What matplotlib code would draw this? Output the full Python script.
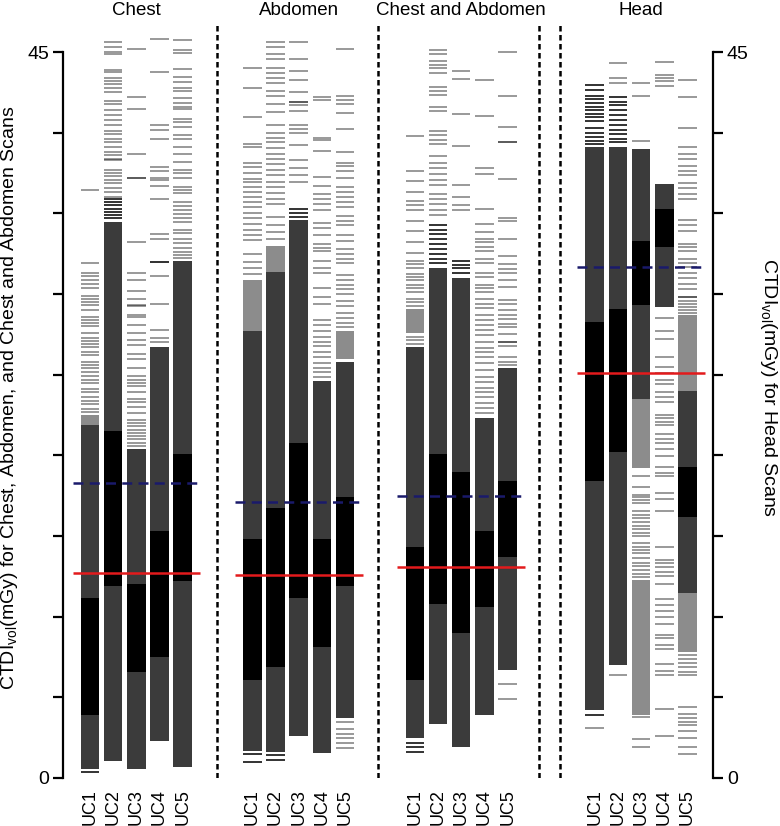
import matplotlib
matplotlib.use("Agg")
import matplotlib.pyplot as plt

plt.rcParams['font.family'] = ['Liberation Sans', 'DejaVu Sans']
plt.rcParams['mathtext.fontset'] = 'custom'
plt.rcParams['mathtext.rm'] = 'Liberation Sans'

panels = ["Chest", "Abdomen", "Chest and Abdomen", "Head"]
uc_labels = ["UC1", "UC2", "UC3", "UC4", "UC5"]
ref_red = [12.7, 12.6, 13.1, 25.1]    # solid red reference level per panel
ref_blue = [18.3, 17.1, 17.5, 31.7]   # dashed blue reference level per panel

# solid blocks per UC column: (low, high, shade)  k=black, d=dark grey, m=mid grey
chest_bands = [
    [(0.55, 3.93, 'd'), (3.93, 11.15, 'k'), (11.15, 21.9, 'd'), (21.9, 22.5, 'm')],
    [(1.05, 11.9, 'd'), (11.9, 21.5, 'k'), (21.5, 34.5, 'd')],
    [(0.55, 6.6, 'd'), (6.6, 12.0, 'k'), (12.0, 20.4, 'd')],
    [(2.3, 7.5, 'd'), (7.5, 15.3, 'k'), (15.3, 26.75, 'd')],
    [(0.7, 12.2, 'd'), (12.2, 20.1, 'k'), (20.1, 32.06, 'd')],
]
abdomen_bands = [
    [(1.7, 6.1, 'd'), (6.1, 14.8, 'k'), (14.8, 27.7, 'd'), (27.7, 30.9, 'm')],
    [(1.6, 6.9, 'd'), (6.9, 16.75, 'k'), (16.75, 31.4, 'd'), (31.4, 33.0, 'm')],
    [(2.6, 11.15, 'd'), (11.15, 20.8, 'k'), (20.8, 34.6, 'd')],
    [(1.57, 8.1, 'd'), (8.1, 14.8, 'k'), (14.8, 24.6, 'd')],
    [(3.7, 11.9, 'd'), (11.9, 17.4, 'k'), (17.4, 25.8, 'd'), (26.0, 27.7, 'm')],
]
chab_bands = [
    [(2.46, 6.05, 'd'), (6.05, 14.3, 'k'), (14.3, 26.75, 'd'), (27.6, 29.1, 'm')],
    [(3.34, 10.8, 'd'), (10.8, 20.1, 'k'), (20.1, 31.6, 'd')],
    [(1.9, 9.0, 'd'), (9.0, 19.0, 'k'), (19.0, 31.0, 'd')],
    [(3.9, 10.6, 'd'), (10.6, 15.3, 'k'), (15.3, 22.3, 'd')],
    [(6.7, 13.7, 'd'), (13.7, 18.4, 'k'), (18.4, 25.4, 'd')],
]
head_bands = [
    [(4.2, 18.4, 'd'), (18.4, 28.3, 'k'), (28.3, 39.1, 'd')],
    [(7.0, 20.2, 'd'), (20.2, 29.05, 'k'), (29.05, 39.1, 'd')],
    [(3.9, 12.3, 'm'), (19.2, 23.5, 'm'), (23.5, 29.3, 'd'), (29.3, 33.3, 'k'), (33.3, 39.0, 'd')],
    [(29.2, 32.9, 'd'), (32.9, 35.3, 'k'), (35.3, 36.8, 'd')],
    [(7.8, 11.5, 'm'), (11.5, 16.2, 'd'), (16.2, 19.3, 'k'), (19.3, 24.0, 'd'), (24.0, 28.7, 'm')],
]

# single scans outside the blocks (light grey strokes)
chest_lines = [
    [36.45, 31.9, 31.3, 31.1, 30.9, 30.6, 30.4, 29.9, 29.7, 29.5, 29.3, 29.0, 28.6, 28.4, 28.2,
     28.0, 27.6, 27.3, 27.1, 26.9, 26.7, 26.4, 26.2, 25.8, 25.6, 25.4, 25.2, 24.9, 24.7, 24.5,
     24.1, 23.9, 23.6, 23.4, 23.2, 22.9, 22.7],
    [45.6, 45.3, 45.0, 44.9, 43.9, 43.8, 43.4, 43.2, 43.0, 42.8, 42.5, 42.0, 41.8, 41.4, 41.1,
     40.8, 40.5, 40.1, 39.9, 39.6, 39.4, 39.1, 38.8, 38.6, 38.4, 38.3, 37.7, 37.5, 37.3, 37.1,
     36.9, 36.6, 36.3, 36.0],
    [45.2, 42.2, 41.5, 38.7, 37.2, 37.2, 33.2, 31.3, 30.9, 30.2, 29.7, 29.3, 29.25, 28.7, 28.6,
     28.1, 27.6, 27.15, 26.85, 26.3, 26.0, 25.4, 24.9, 24.7, 24.5, 24.3, 23.95, 23.5, 23.3, 23.0,
     22.6, 22.2, 22.0, 21.8, 21.6, 21.4, 21.2, 21.0, 20.8, 20.6],
    [45.8, 43.75, 40.5, 40.2, 39.6, 37.9, 37.65, 37.2, 37.1, 36.7, 35.9, 33.7, 33.4, 32.0, 31.1,
     29.4, 27.8, 27.3, 27.0],
    [45.75, 45.13, 44.92, 43.93, 43.48, 43.17, 42.76, 42.61, 42.14, 41.87, 41.62, 41.45, 40.83,
     40.69, 40.34, 39.86, 39.59, 39.14, 38.68, 38.21, 37.69, 37.49, 37.18, 36.66, 36.45, 36.29,
     35.73, 35.46, 35.21, 34.96, 34.69, 34.49, 34.0, 33.8, 33.39, 33.18, 32.83, 32.62, 32.42, 32.21],
]
abdomen_lines = [
    [44.0, 42.8, 41.0, 39.3, 39.1, 38.15, 37.86, 37.51, 37.16, 36.92, 36.62, 36.33, 36.04, 35.74,
     35.39, 35.0, 34.71, 34.33, 33.97, 33.68, 33.38, 32.5, 31.97, 31.62, 31.26],
    [45.6, 45.3, 44.87, 44.58, 43.99, 43.7, 43.4, 43.1, 42.6, 42.3, 41.8, 41.3, 40.5, 40.0, 39.7,
     39.4, 39.05, 38.7, 38.4, 38.05, 37.7, 37.36, 36.98, 36.62, 36.27, 35.89, 35.6, 34.8, 34.27,
     33.83, 33.4],
    [45.6, 44.6, 43.84, 43.26, 42.52, 41.93, 41.93, 41.7, 41.34, 40.46, 40.22, 40.01, 39.22, 38.33,
     37.8, 37.36, 36.98],
    [42.25, 42.04, 39.7, 39.57, 38.9, 37.27, 36.68, 36.18, 35.89, 35.6, 35.21, 34.42, 34.12, 33.68,
     33.09, 32.86, 32.65, 32.06, 31.62, 31.32, 30.38, 29.85, 29.41, 28.38, 28.08, 27.73, 27.35,
     27.05, 26.76, 26.38, 26.08, 25.73, 25.44, 25.14, 24.85],
    [45.2, 42.28, 42.05, 41.78, 41.2, 40.22, 38.84, 38.15, 37.92, 37.66, 37.21, 36.62, 36.33, 36.04,
     35.68, 35.39, 34.86, 34.56, 34.27, 33.68, 33.32, 32.8, 32.5, 32.2, 31.91, 31.17, 30.88, 30.58,
     30.29, 29.99, 29.6, 29.25, 28.81, 28.52, 28.22, 27.93, 3.49, 3.05, 2.75, 2.46, 2.16, 1.87],
]
chab_lines = [
    [39.8, 37.66, 37.04, 36.33, 35.8, 35.51, 35.21, 34.56, 33.92, 33.24, 32.56, 32.06, 31.85, 31.62,
     31.23, 31.03, 30.88, 30.58, 30.38, 30.14, 29.7, 29.49, 29.25, 27.34, 27.14, 26.9],
    [45.16, 44.87, 44.43, 44.22, 43.99, 43.7, 42.87, 42.58, 42.37, 41.63, 41.34, 40.1, 39.86, 39.57,
     39.33, 38.54, 38.15, 37.8, 37.45, 37.07, 36.77, 36.18, 35.89, 35.6, 35.21, 34.92],
    [43.84, 43.32, 41.16, 39.19, 36.77, 36.04, 35.51, 35.21],
    [43.25, 41.04, 37.8, 37.42, 35.3, 34.33, 33.83, 33.44, 33.24, 32.94, 32.65, 32.15, 31.91, 31.32,
     31.03, 30.58, 30.38, 30.14, 29.7, 29.41, 29.11, 28.73, 28.38, 28.08, 27.79, 27.49, 27.05, 26.67,
     26.38, 26.08, 25.73, 25.29, 24.85, 24.55, 24.2, 23.91, 23.61, 23.23, 22.94, 22.64],
    [45.02, 42.28, 40.37, 39.42, 39.42, 37.13, 34.71, 34.51, 33.44, 32.36, 31.85, 31.56, 31.32, 30.88,
     30.44, 29.61, 29.41, 29.02, 28.73, 28.43, 28.14, 27.93, 27.55, 27.05, 27.05, 26.76, 26.08, 25.79,
     25.58, 5.85, 4.87],
]
head_lines = [
    [3.08],
    [44.3, 43.4, 43.1, 6.4],
    [43.1, 42.3, 39.5, 18.74, 18.02, 17.55, 17.4, 17.24, 17.03, 16.57, 16.3, 16.1, 15.9, 15.62, 15.42,
     15.21, 15.0, 14.55, 14.34, 14.13, 13.93, 13.62, 13.35, 13.14, 12.9, 12.65, 12.49, 3.8, 2.4, 1.9],
    [44.4, 43.6, 43.4, 43.2, 42.9, 28.5, 27.7, 27.2, 26.1, 25.5, 25.1, 24.7, 24.43, 23.95, 23.6, 23.3,
     22.5, 22.3, 22.1, 21.9, 21.3, 21.0, 20.75, 20.4, 19.96, 19.26, 18.9, 18.7, 17.65, 17.3, 16.55,
     14.3, 13.5, 13.3, 13.06, 12.75, 12.5, 12.0, 11.1, 10.7, 10.35, 9.96, 9.55, 8.87, 8.7, 8.25, 7.98,
     7.07, 6.63, 6.39, 4.28, 2.6],
    [43.25, 42.2, 40.3, 39.1, 38.7, 38.4, 37.95, 37.65, 37.4, 36.9, 36.6, 36.2, 35.9, 34.6, 34.3, 33.9,
     33.1, 32.9, 32.65, 32.2, 31.9, 31.7, 31.3, 31.0, 30.6, 30.3, 29.85, 29.85, 29.6, 29.4, 29.2, 29.0,
     28.8, 7.6, 7.4, 7.1, 6.9, 6.6, 6.4, 4.4, 3.97, 3.7, 3.5, 3.3, 2.9, 2.46, 1.94, 1.5],
]

# tightly packed scans that show up as dark strokes
chest_dark = [[0.4], [34.7, 34.9, 35.1, 35.3, 35.5, 35.7, 35.9], [], [32.0], []]
abdomen_dark = [[1.5, 1.0], [1.4, 1.1], [34.8, 35.0, 35.3], [], []]
chab_dark = [[2.2, 1.9, 1.6], [31.9, 32.2, 32.5, 32.8, 33.1, 33.4, 33.7, 34.0, 34.3],
             [31.3, 31.6, 31.8, 32.06], [], []]
head_dark = [
    [42.95, 42.66, 42.28, 42.07, 41.87, 41.63, 41.4, 41.19, 40.98, 40.75, 40.28, 40.01, 39.72,
     39.51, 39.3, 3.9],
    [42.22, 41.93, 41.7, 41.4, 41.1, 40.8, 40.5, 40.2, 39.9, 39.6, 39.4],
    [], [], [],
]

all_bands = [chest_bands, abdomen_bands, chab_bands, head_bands]
all_lines = [chest_lines, abdomen_lines, chab_lines, head_lines]
all_dark = [chest_dark, abdomen_dark, chab_dark, head_dark]

shade = {'k': '#000000', 'd': '#3b3b3b', 'm': '#8c8c8c'}
offsets = [0, 7, 14, 21.75]          # x of UC1 in each panel
dividers = [5.47, 12.41, 19.35, 20.26]
half = 0.4

fig = plt.figure(figsize=(7.8, 8.26), dpi=100)
ax = fig.add_axes([63 / 780, 48 / 826, 650 / 780, 756 / 826])
ax.set_xlim(-1.16, 26.85)
ax.set_ylim(0, 46.87)

xt, xl = [], []
for p, name in enumerate(panels):
    base = offsets[p]
    for c in range(5):
        x = base + c
        xt.append(x)
        xl.append(uc_labels[c])
        for lo, hi, s in all_bands[p][c]:
            ax.bar(x, hi - lo, bottom=lo, width=2 * half, color=shade[s], linewidth=0, zorder=2)
        ax.hlines(all_lines[p][c], x - half, x + half, color='black', alpha=0.4, lw=1.4, zorder=3)
        ax.hlines(all_dark[p][c], x - half, x + half, color='#333333', lw=1.4, zorder=3)
    ax.hlines(ref_red[p], base - 0.75, base + 4.75, color='#e31a1c', lw=1.8, zorder=5)
    ax.hlines(ref_blue[p], base - 0.75, base + 4.75, color='#1a1a6b', lw=1.8,
              linestyles=(0, (4, 2.5)), zorder=5)
    ax.text(base + 2, 47.3, name, ha='center', va='baseline', fontsize=13.5, clip_on=False)

ax.vlines(dividers, 0, 46.8, colors='black', lw=1.8, linestyles=(0, (2.2, 1.4)), zorder=4)

# axes: R-style, left for body scans, right for head scans
yt = list(range(0, 46, 5))
ylab = ['0'] + [''] * 8 + ['45']
for side in ['top', 'bottom', 'right']:
    ax.spines[side].set_visible(False)
ax.spines['left'].set_bounds(0, 45)
ax.spines['left'].set_linewidth(1.6)
ax.set_yticks(yt)
ax.set_yticklabels(ylab, fontsize=14)
ax.tick_params(axis='y', length=7, width=1.6, pad=3)
ax.set_xticks(xt)
ax.set_xticklabels(xl, rotation=90, fontsize=13)
ax.tick_params(axis='x', length=0, pad=8)

ax2 = ax.twinx()
ax2.set_ylim(0, 46.87)
for side in ['top', 'bottom', 'left']:
    ax2.spines[side].set_visible(False)
ax2.spines['right'].set_bounds(0, 45)
ax2.spines['right'].set_linewidth(1.6)
ax2.set_yticks(yt)
ax2.set_yticklabels(ylab, fontsize=14)
ax2.tick_params(axis='y', length=7, width=1.6, pad=3)

fig.text(10 / 780, 1 - 398 / 826,
         'CTDI$_{\\mathrm{vol}}$(mGy) for Chest, Abdomen, and Chest and Abdomen Scans',
         rotation=90, ha='center', va='center', fontsize=14)
fig.text(768 / 780, 1 - 388 / 826, 'CTDI$_{\\mathrm{vol}}$(mGy) for Head Scans',
         rotation=270, ha='center', va='center', fontsize=14)

fig.savefig("out.png", dpi=100)
